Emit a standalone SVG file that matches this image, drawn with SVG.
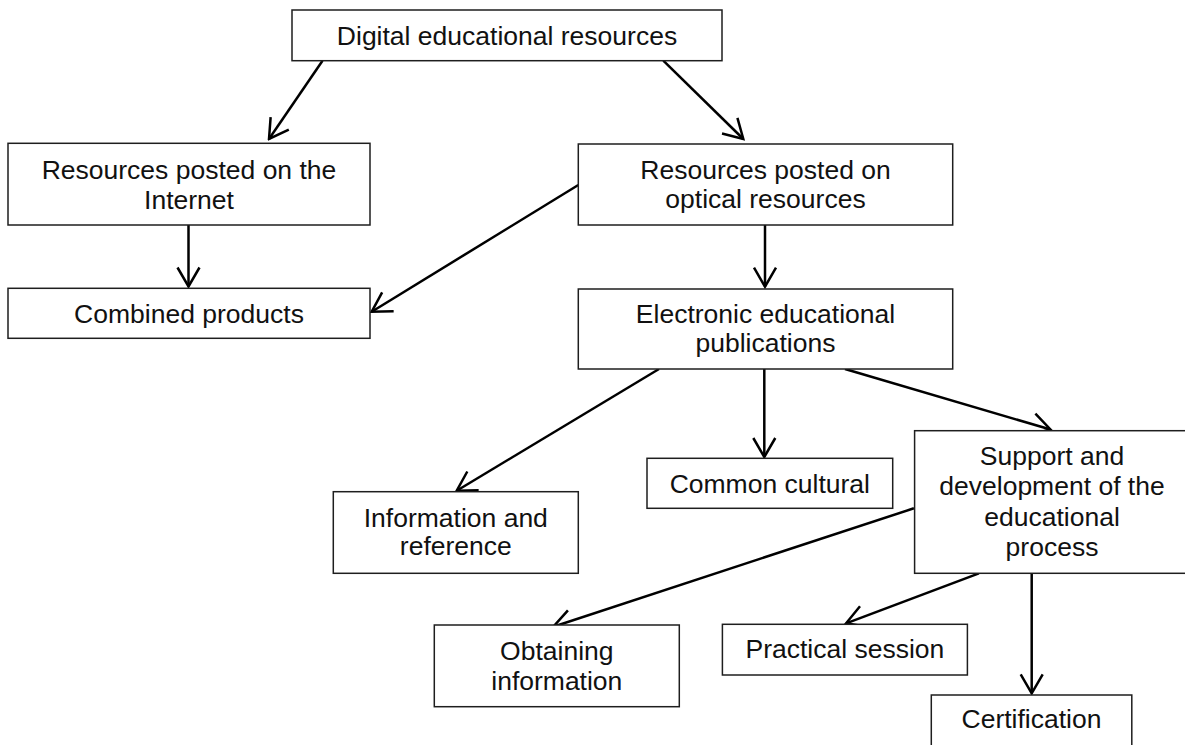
<svg xmlns="http://www.w3.org/2000/svg" width="1185" height="745" viewBox="0 0 1185 745">
  <style>
    .box { fill: #ffffff; stroke: #1e1e1e; stroke-width: 1.5; }
    .lbl { font-family: "Liberation Sans", Arial, sans-serif; font-size: 26.5px; fill: #111111; text-anchor: middle; }
    .edge { fill: none; stroke: #000000; stroke-width: 2.5; marker-end: url(#arrow); }
  </style>
  <defs>
    <marker id="arrow" markerUnits="userSpaceOnUse" viewBox="-22 -14 24 28" refX="0" refY="0" markerWidth="24" markerHeight="28" orient="auto">
      <path d="M-19,-11 L0,0 L-19,11" fill="none" stroke="#000000" stroke-width="2.5" stroke-linejoin="miter"/>
    </marker>
  </defs>

  <rect width="1185" height="745" fill="#ffffff"/>

  <g id="connectors">
    <line class="edge" x1="322.5" y1="60.7" x2="269" y2="139"/>
    <line class="edge" x1="663.3" y1="60.7" x2="743.3" y2="139"/>
    <line class="edge" x1="188.5" y1="225" x2="188.5" y2="286.5"/>
    <line class="edge" x1="578.3" y1="185" x2="371.7" y2="311.7"/>
    <line class="edge" x1="765" y1="225" x2="765" y2="286.7"/>
    <line class="edge" x1="659" y1="369" x2="456.7" y2="490.7"/>
    <line class="edge" x1="764.3" y1="369" x2="764.3" y2="457"/>
    <line class="edge" x1="845" y1="369" x2="1050.5" y2="429.5"/>
    <line class="edge" x1="913.9" y1="508.3" x2="553.3" y2="626.7"/>
    <line class="edge" x1="978.9" y1="573.3" x2="846.1" y2="623.3"/>
    <line class="edge" x1="1031.7" y1="573.3" x2="1031.7" y2="693.3"/>
  </g>

  <g id="digital-educational-resources">
    <rect class="box" x="292" y="10" width="430" height="50.7"/>
    <text class="lbl" x="507" y="45">Digital educational resources</text>
  </g>

  <g id="resources-internet">
    <rect class="box" x="8" y="143.3" width="362" height="81.7"/>
    <text class="lbl" x="189" y="179.3">Resources posted on the</text>
    <text class="lbl" x="189" y="209">Internet</text>
  </g>

  <g id="resources-optical">
    <rect class="box" x="578.3" y="144" width="374.4" height="81"/>
    <text class="lbl" x="765.5" y="179.3">Resources posted on</text>
    <text class="lbl" x="765.5" y="208.3">optical resources</text>
  </g>

  <g id="combined-products">
    <rect class="box" x="8" y="288.3" width="362" height="50"/>
    <text class="lbl" x="189" y="323">Combined products</text>
  </g>

  <g id="electronic-publications">
    <rect class="box" x="578.3" y="289" width="374.4" height="80"/>
    <text class="lbl" x="765.5" y="323.3">Electronic educational</text>
    <text class="lbl" x="765.5" y="351.7">publications</text>
  </g>

  <g id="common-cultural">
    <rect class="box" x="647" y="458.3" width="245.7" height="50"/>
    <text class="lbl" x="769.8" y="492.7">Common cultural</text>
  </g>

  <g id="information-reference">
    <rect class="box" x="333.3" y="491.7" width="245" height="81.6"/>
    <text class="lbl" x="455.8" y="526.7">Information and</text>
    <text class="lbl" x="455.8" y="555">reference</text>
  </g>

  <g id="support-development">
    <rect class="box" x="914.6" y="430.7" width="276" height="142.6"/>
    <text class="lbl" x="1052" y="465">Support and</text>
    <text class="lbl" x="1052" y="495">development of the</text>
    <text class="lbl" x="1052" y="526">educational</text>
    <text class="lbl" x="1052" y="556">process</text>
  </g>

  <g id="obtaining-information">
    <rect class="box" x="434.3" y="625" width="245" height="81.7"/>
    <text class="lbl" x="556.8" y="660">Obtaining</text>
    <text class="lbl" x="556.8" y="690">information</text>
  </g>

  <g id="practical-session">
    <rect class="box" x="722.4" y="624.3" width="245" height="50.7"/>
    <text class="lbl" x="844.9" y="658.3">Practical session</text>
  </g>

  <g id="certification">
    <rect class="box" x="931.3" y="695" width="200.5" height="60"/>
    <text class="lbl" x="1031.5" y="728.3">Certification</text>
  </g>
</svg>
